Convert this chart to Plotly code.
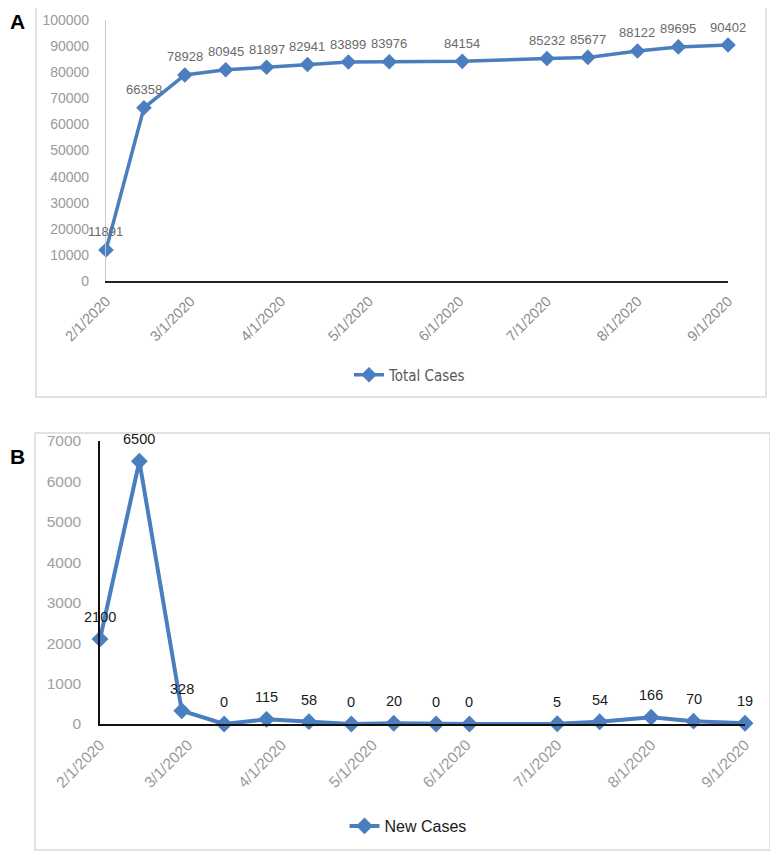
import plotly.graph_objects as go

# ---------------- data ----------------
dates_total = ["2020-02-01", "2020-02-14", "2020-02-28", "2020-03-13", "2020-03-27",
               "2020-04-10", "2020-04-24", "2020-05-08", "2020-06-02", "2020-07-01",
               "2020-07-15", "2020-08-01", "2020-08-15", "2020-09-01"]
total_cases = [11891, 66358, 78928, 80945, 81897, 82941, 83899, 83976, 84154, 85232,
               85677, 88122, 89695, 90402]

dates_new = ["2020-02-01", "2020-02-14", "2020-02-28", "2020-03-13", "2020-03-27",
             "2020-04-10", "2020-04-24", "2020-05-08", "2020-05-22", "2020-06-02",
             "2020-07-01", "2020-07-15", "2020-08-01", "2020-08-15", "2020-09-01"]
new_cases = [2100, 6500, 328, 0, 115, 58, 0, 20, 0, 0, 5, 54, 166, 70, 19]

month_ticks = ["2020-02-01", "2020-03-01", "2020-04-01", "2020-05-01",
               "2020-06-01", "2020-07-01", "2020-08-01", "2020-09-01"]
month_labels = ["2/1/2020", "3/1/2020", "4/1/2020", "5/1/2020",
                "6/1/2020", "7/1/2020", "8/1/2020", "9/1/2020"]
yticks_total = [0, 10000, 20000, 30000, 40000, 50000, 60000, 70000, 80000, 90000, 100000]
yticks_new = [0, 1000, 2000, 3000, 4000, 5000, 6000, 7000]

# ---------------- style ----------------
OFF = 8  # default page body margin
W, H = 778 - OFF, 855 - OFF
BLUE = "#4a7ebf"
FONT = "Liberation Sans, Arial, sans-serif"
NARROW = "Liberation Sans Narrow, DejaVu Sans Condensed, Arial Narrow, sans-serif"


def px_x(p):
    return (p - OFF) / W


def px_y(p):
    return 1 - (p - OFF) / H


fig = go.Figure()

fig.add_trace(go.Scatter(
    x=dates_total, y=total_cases, mode="lines+markers", name="Total Cases",
    line=dict(color=BLUE, width=3.5),
    marker=dict(symbol="diamond", size=12, color=BLUE),
    xaxis="x", yaxis="y", legend="legend", cliponaxis=False,
))
fig.add_trace(go.Scatter(
    x=dates_new, y=new_cases, mode="lines+markers", name="New Cases",
    line=dict(color=BLUE, width=4),
    marker=dict(symbol="diamond", size=13, color=BLUE),
    xaxis="x2", yaxis="y2", legend="legend2", cliponaxis=False,
))

annotations = []
for d, v in zip(dates_total, total_cases):
    annotations.append(dict(x=d, y=v, xref="x", yref="y", text=str(v), showarrow=False,
                            yshift=18, font=dict(family=FONT, size=13, color="#6a6a6a")))
for d, v in zip(dates_new, new_cases):
    annotations.append(dict(x=d, y=v, xref="x2", yref="y2", text=str(v), showarrow=False,
                            yshift=22, font=dict(family=FONT, size=14.5, color="#1a1a1a")))

annotations.append(dict(x=0, y=1, xref="paper", yref="paper", text="<b>A</b>",
                        showarrow=False, xanchor="left", yanchor="top",
                        font=dict(family=FONT, size=21, color="#000")))
annotations.append(dict(x=0, y=px_y(456), xref="paper", yref="paper", text="<b>B</b>",
                        showarrow=False, xanchor="left", yanchor="middle",
                        font=dict(family=FONT, size=21, color="#000")))

shapes = [
    dict(type="rect", xref="paper", yref="paper", x0=px_x(36), x1=px_x(766),
         y0=px_y(397), y1=px_y(3), line=dict(color="#d9d9d9", width=1.5)),
    dict(type="rect", xref="paper", yref="paper", x0=px_x(35), x1=px_x(770),
         y0=px_y(850), y1=px_y(433), line=dict(color="#d9d9d9", width=1.5)),
]

fig.update_layout(
    width=W, height=H, margin=dict(l=0, r=0, t=0, b=0, autoexpand=False),
    paper_bgcolor="white", plot_bgcolor="white",
    showlegend=True,
    annotations=annotations, shapes=shapes,
    xaxis=dict(domain=[px_x(106), px_x(728)], range=["2020-02-01", "2020-09-01"],
               tickvals=month_ticks, ticktext=month_labels, tickangle=-45,
               showgrid=False, zeroline=False, showline=True, linecolor="#222", linewidth=2,
               ticks="", automargin=False, ticklabelstandoff=4,
               tickfont=dict(family=FONT, size=14.5, color="#8c8c8c"),
               anchor="y"),
    yaxis=dict(domain=[px_y(281), px_y(20)], range=[0, 100000], tickvals=yticks_total,
               tickformat="d",
               showgrid=False, zeroline=False, showline=True, linecolor="#c8c8c8", linewidth=1.2,
               ticks="", ticklabelstandoff=13, automargin=False,
               tickfont=dict(family=FONT, size=14, color="#9a9a9a"), anchor="x"),
    xaxis2=dict(domain=[px_x(100), px_x(745)], range=["2020-02-01", "2020-09-01"],
                tickvals=month_ticks, ticktext=month_labels, tickangle=-45,
                showgrid=False, zeroline=False, showline=True, linecolor="#111", linewidth=1.5,
                ticks="", automargin=False, ticklabelstandoff=4,
                tickfont=dict(family=FONT, size=15.5, color="#9a9a9a"),
                anchor="y2"),
    yaxis2=dict(domain=[px_y(724), px_y(441)], range=[0, 7000], tickvals=yticks_new,
                tickformat="d",
                showgrid=False, zeroline=False, showline=True, linecolor="#111", linewidth=1.5,
                ticks="", ticklabelstandoff=14, automargin=False,
                tickfont=dict(family=FONT, size=15.5, color="#a0a0a0"), anchor="x2"),
    legend=dict(x=px_x(410), y=px_y(375), xanchor="center", yanchor="middle",
                bgcolor="rgba(0,0,0,0)", font=dict(family=NARROW, size=15, color="#595959")),
    legend2=dict(x=px_x(408), y=px_y(826), xanchor="center", yanchor="middle",
                 bgcolor="rgba(0,0,0,0)", font=dict(family=FONT, size=16, color="#1a1a1a")),
)

fig.write_html("out.html")
